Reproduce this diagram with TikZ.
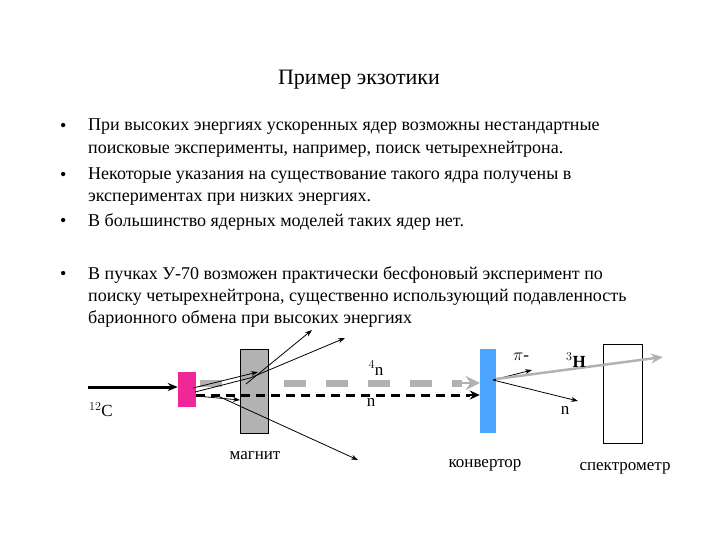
\documentclass[tikz,border=0pt]{standalone}
\usepackage{fontspec}
\usetikzlibrary{arrows.meta}
\setmainfont{Liberation Serif}
\begin{document}
\begin{tikzpicture}[x=1pt,y=-1pt,
  txt/.style={anchor=west,inner sep=0pt,font=\fontsize{18}{20}\selectfont},
  lbl/.style={inner sep=0pt,font=\fontsize{17}{19}\selectfont},
  thin/.style={-{Stealth[length=7pt,width=5pt]},line width=0.8pt},
]
\useasboundingbox (0,0) rectangle (720,540);
\node[inner sep=0pt,font=\fontsize{22}{24}\selectfont] (title) at (359,80) {Пример экзотики};
\foreach \y/\t [count=\i] in {127/{При высоких энергиях ускоренных ядер возможны нестандартные},
 149/{поисковые эксперименты, например, поиск четырехнейтрона.},
 176/{Некоторые указания на существование такого ядра получены в},
 199/{экспериментах при низких энергиях.},
 222/{В большинство ядерных моделей таких ядер нет.},
 275/{В пучках У-70 возможен практически бесфоновый эксперимент по},
 297/{поиску четырехнейтрона, существенно использующий подавленность},
 319/{барионного обмена при высоких энергиях}}
 {\node[txt] (l\i) at (88,\y) {\t};}
\foreach \y [count=\i] in {127,176,222,275} {\node[txt] (b\i) at (60,\y) {•};}
% objects
\node[draw=none,fill=magenta!80!pink,minimum width=18pt,minimum height=35pt,inner sep=0pt] (tgt) at (187,389) {};
\node[draw=black,fill=gray!60,minimum width=28pt,minimum height=84pt,inner sep=0pt] (mag) at (254,391) {};
\node[fill=blue!50!cyan!70,minimum width=16pt,minimum height=84pt,inner sep=0pt] (conv) at (488,391) {};
\node[draw=black,fill=white,minimum width=39pt,minimum height=99pt,inner sep=0pt] (spec) at (623,394) {};
\coordinate (bs) at (88,387);
\draw[-{Stealth[length=10pt,width=8pt]},line width=3pt] (bs) -- (tgt.west|-bs);
% gray dashed 4n
\coordinate (g0) at (200,383);
\draw[gray!60,line width=7pt,dash pattern=on 22pt off 20pt] (g0) -- (462,383);
\draw[gray!60,line width=2pt,-{Stealth[length=14pt,width=14pt]}] (455,383) -- (conv.west|-g0);
% black dashed n
\coordinate (k0) at (196,395);
\draw[line width=3pt,dash pattern=on 9pt off 6pt] (k0) -- (470,395);
\draw[line width=2pt,-{Stealth[length=10pt,width=9pt]}] (466,395) -- (conv.west|-k0);
% deflected tracks
\coordinate (t1) at (193,388);
\coordinate (m1) at (258,372); \coordinate (e1) at (312,330);
\coordinate (m2) at (250,378); \coordinate (e2) at (345,338);
\coordinate (m3) at (240,400); \coordinate (e3) at (358,460);
\draw[thin] (t1) -- (m1);
\draw[thin] (246,384) -- (e1);
\draw[line width=0.8pt] (195,392) -- (m2);
\draw[thin] (m2) -- (e2);
\draw[thin] (196,396) -- (m3);
\draw[thin] (220,397) -- (e3);
% after converter
\coordinate (c0) at (493,380);
\coordinate (pi) at (532,370); \coordinate (n2) at (578,401);
\draw[thin] (c0) -- (pi);
\draw[thin] (c0) -- (n2);
\draw[gray!60,line width=2.5pt,-{Stealth[length=12pt,width=10pt]}] (496,379) -- (663,357);
% labels
\node[lbl] (lC) at (101,410) {$^{12}$C};
\node[lbl] (l4n) at (376,368) {$^{4}$n};
\node[lbl] (lnn) at (371,402) {n};
\node[lbl] (lpi) at (521,357) {$\pi$-};
\node[lbl] (l3H) at (576,360) {$^{3}$\textbf{H}};
\node[lbl] (ln2) at (565,410) {n};
\node[lbl] (lmag) at (255,456) {магнит};
\node[lbl] (lconv) at (485,465) {конвертор};
\node[lbl] (lspec) at (625,468) {спектрометр};
\end{tikzpicture}
\end{document}
